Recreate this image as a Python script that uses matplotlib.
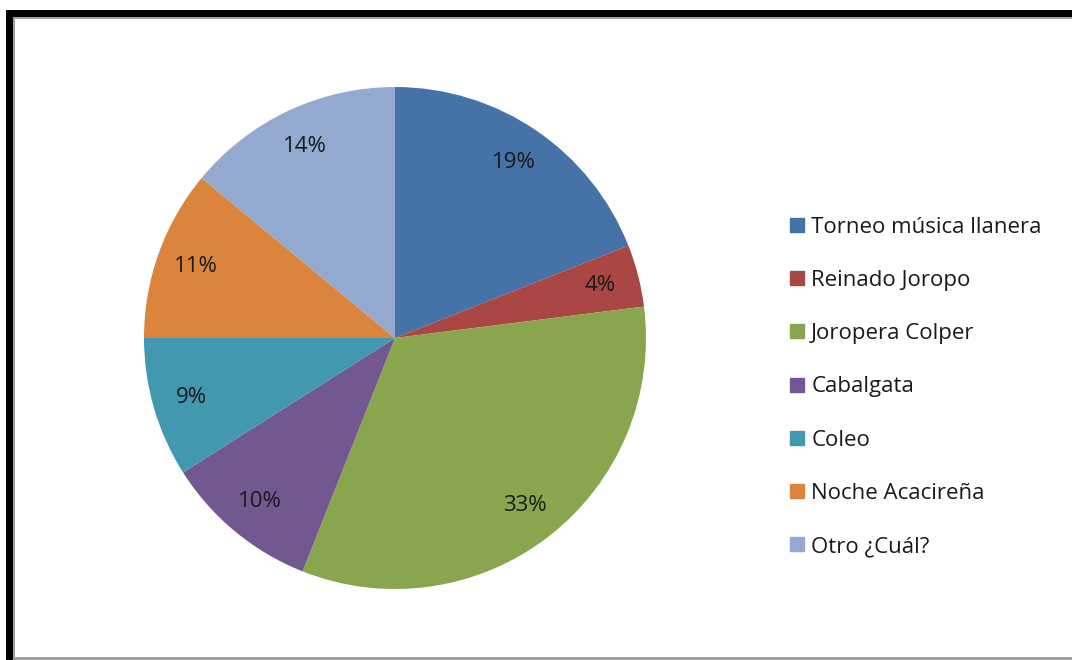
import matplotlib
matplotlib.use("Agg")
import matplotlib.pyplot as plt
from matplotlib.lines import Line2D
from matplotlib.patches import Rectangle

categories = ["Torneo música llanera", "Reinado Joropo", "Joropera Colper",
              "Cabalgata", "Coleo", "Noche Acacireña", "Otro ¿Cuál?"]
percentages = [19, 4, 33, 10, 9, 11, 14]
colors = ["#4572A7", "#AA4643", "#89A54E", "#71588F", "#4198AF", "#DB843D", "#93A9CF"]

W, H = 1072, 660
fig = plt.figure(figsize=(W / 100, H / 100), dpi=100)
fig.patch.set_facecolor("white")
plt.rcParams["font.family"] = ["Open Sans", "DejaVu Sans"]

# pie axes: centre (395, 338), radius ~251 px
r = 251
cx, cy = 395, 338
ax = fig.add_axes([(cx - r) / W, (H - cy - r) / H, 2 * r / W, 2 * r / H])
wedges, texts = ax.pie(percentages, colors=colors, startangle=90, counterclock=False,
                       labels=[f"{p}%" for p in percentages], labeldistance=0.845,
                       wedgeprops=dict(linewidth=0))
for t in texts:
    t.set_fontsize(16)
    t.set_color("#1a1a1a")
    t.set_ha("center")
    t.set_va("center")
ax.set_xlim(-1, 1)
ax.set_ylim(-1, 1)
ax.set_aspect("equal")
ax.axis("off")

handles = [Line2D([], [], marker="s", linestyle="none", markersize=10,
                  markerfacecolor=c, markeredgecolor=c) for c in colors]
leg = fig.legend(handles, categories, loc="center left",
                 bbox_to_anchor=(779 / W, 1 - 387 / H), frameon=False,
                 fontsize=16, labelspacing=1.45, handlelength=0.6,
                 handletextpad=0.35, borderpad=0)
for t in leg.get_texts():
    t.set_color("#1a1a1a")

# frame around the chart area
def px_rect(x0, y0, x1, y1, color):
    fig.patches.append(Rectangle((x0 / W, 1 - y1 / H), (x1 - x0) / W, (y1 - y0) / H,
                                 transform=fig.transFigure, facecolor=color,
                                 edgecolor="none", zorder=10))

px_rect(6, 10, W, 17, "black")
px_rect(6, 10, 13, H, "black")
px_rect(13, 17, W, 19, "#a0a0a0")
px_rect(13, 17, 15, H, "#a0a0a0")
px_rect(13, 657, W, 660, "#a0a0a0")

fig.savefig("out.png", dpi=100)
